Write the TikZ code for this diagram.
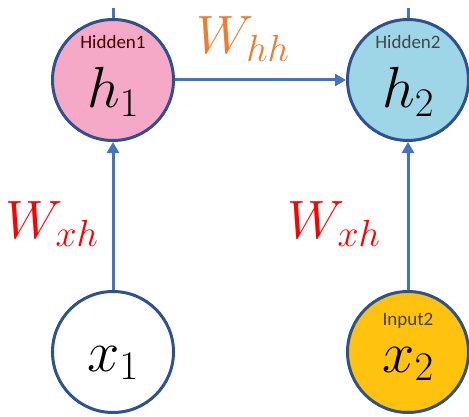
\RequirePackage{fix-cm}
\documentclass[tikz,border=0pt]{standalone}
\usepackage{fontspec}
\newfontfamily\calib{Carlito}
\usetikzlibrary{arrows.meta}
\definecolor{rim}{HTML}{2F528F}
\definecolor{arr}{HTML}{4472C4}
\definecolor{pinkf}{HTML}{F6A9C7}
\definecolor{bluef}{HTML}{9ED6E8}
\definecolor{yellf}{HTML}{FFC20E}
\definecolor{orng}{HTML}{ED7D31}
\definecolor{redw}{HTML}{FF0000}
\tikzset{
  unit/.style={circle, draw=rim, line width=3pt, minimum size=121pt, inner sep=0pt},
  sym/.style={inner sep=0pt, font=\fontsize{58}{60}\selectfont},
  tag/.style={inner sep=0pt, font=\calib\fontsize{19}{20}\selectfont},
  wlab/.style={inner sep=0pt, font=\fontsize{54}{56}\selectfont},
  link/.style={draw=arr, line width=3pt, -{Triangle[length=11pt,width=12pt]}},
  stub/.style={draw=arr, line width=3pt}
}
\begin{document}
\begin{tikzpicture}[x=1pt,y=1pt]
\useasboundingbox (0,0) rectangle (469,416);
\node[unit, fill=pinkf] (h1) at (113,336) {};
\node[unit, fill=bluef] (h2) at (408,336) {};
\node[unit, fill=white] (x1) at (113,64) {};
\node[unit, fill=yellf] (x2) at (408,64) {};
\node[sym] (h1t) at (113,324) {$h_1$};
\node[sym] (h2t) at (408,324) {$h_2$};
\node[sym] (x1t) at (113,53) {$x_1$};
\node[sym] (x2t) at (408,52) {$x_2$};
\node[tag, text=black!75!red] (h1l) at (113,374) {Hidden1};
\node[tag, text=black!80!cyan] (h2l) at (408,374) {Hidden2};
\node[tag, text=black!85!yellow] (x2l) at (408,95) {Input2};
\node[wlab, text=orng] (whh) at (243,377) {$W_{hh}$};
\node[wlab, text=redw] (wxh1) at (52,192) {$W_{xh}$};
\node[wlab, text=redw] (wxh2) at (334,192) {$W_{xh}$};
\coordinate (t1) at (113,408);
\coordinate (t2) at (408,408);
\draw[stub] (h1.north) -- (t1);
\draw[stub] (h2.north) -- (t2);
\draw[link] (h1.east) -- (h2.west);
\draw[link] (x1.north) -- (h1.south);
\draw[link] (x2.north) -- (h2.south);
\end{tikzpicture}
\end{document}
